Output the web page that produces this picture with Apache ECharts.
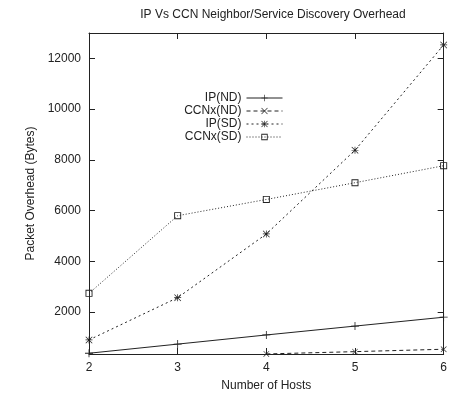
<!DOCTYPE html>
<html>
<head>
<meta charset="utf-8">
<script src="https://cdn.jsdelivr.net/npm/echarts@6/dist/echarts.min.js"></script>
<style>
  html, body { margin: 0; padding: 0; background: #fff; }
  #main { width: 450px; height: 401px; }
</style>
</head>
<body>
<div id="main"></div>
<script>
// values
var hosts = [2, 3, 4, 5, 6];
var ipND = [380, 740, 1100, 1450, 1800];
var ccnND = [null, null, 352, 443, 538];
var ipSD = [905, 2570, 5080, 8380, 12530];
var ccnSD = [2740, 5800, 6440, 7100, 7770];
var yTicks = [2000, 4000, 6000, 8000, 10000, 12000];

var PLUS = 'path://M0,4.5H10V5.5H0Z M4.5,0H5.5V10H4.5Z';
var CROSS = 'path://M0,0.7L0.7,0L10,9.3L9.3,10Z M9.3,0L10,0.7L0.7,10L0,9.3Z';
var STAR = 'path://M0,4.5H10V5.5H0Z M4.5,0H5.5V10H4.5Z M0,0.7L0.7,0L10,9.3L9.3,10Z M9.3,0L10,0.7L0.7,10L0,9.3Z';
var BOX = 'path://M0,0H10V10H0Z M1.3,1.3V8.7H8.7V1.3Z';

function pairs(vals) {
    return hosts.map(function (h, i) { return [h, vals[i]]; });
}

var ink = '#222';
var font = 'Liberation Sans, Arial, sans-serif';

var chart = echarts.init(document.getElementById('main'));

function xAx(pos, show) {
    return {
        type: 'value', position: pos, min: 2, max: 6, interval: 1,
        axisLine: { show: true, onZero: false, lineStyle: { color: ink, width: 1 } },
        axisTick: { show: true, inside: true, length: 6, lineStyle: { color: ink } },
        axisLabel: { show: show, color: ink, fontSize: 12, fontFamily: font, margin: 8 },
        splitLine: { show: false },
        name: show ? 'Number of Hosts' : '',
        nameLocation: 'middle', nameGap: 26,
        nameTextStyle: { color: ink, fontSize: 12, fontFamily: font }
    };
}
function yAx(pos, show) {
    return {
        type: 'value', position: pos, min: 350, max: 13000,
        axisLine: { show: true, onZero: false, lineStyle: { color: ink, width: 1 } },
        axisTick: { show: true, inside: true, length: 6, customValues: yTicks, lineStyle: { color: ink } },
        axisLabel: {
            show: show, customValues: yTicks, color: ink, fontSize: 12, fontFamily: font, margin: 8,
            formatter: function (v) { return String(v); }
        },
        splitLine: { show: false },
        name: show ? 'Packet Overhead (Bytes)' : '',
        nameLocation: 'middle', nameGap: 44,
        nameTextStyle: { color: ink, fontSize: 12, fontFamily: font }
    };
}

function line(name, vals, symbol, size, type) {
    return {
        name: name, type: 'line', data: pairs(vals),
        symbol: symbol, symbolSize: size, showAllSymbol: true,
        connectNulls: false, animation: false,
        lineStyle: { color: ink, width: 1, type: type },
        itemStyle: { color: ink, borderWidth: 0 }
    };
}

chart.setOption({
    animation: false,
    title: {
        text: 'IP Vs CCN Neighbor/Service Discovery Overhead',
        left: 268, top: 4, textAlign: 'center',
        textStyle: { color: ink, fontSize: 12, fontWeight: 'normal', fontFamily: font }
    },
    grid: { left: 89, right: 2, top: 33, bottom: 47 },
    legend: {
        orient: 'vertical', align: 'right', right: 162, top: 87,
        itemWidth: 36, itemHeight: 8, itemGap: 1,
        lineStyle: { width: 1 },
        textStyle: { color: ink, fontSize: 12, fontFamily: font, lineHeight: 12 },
        data: ['IP(ND)', 'CCNx(ND)', 'IP(SD)', 'CCNx(SD)']
    },
    xAxis: [xAx('bottom', true), xAx('top', false)],
    yAxis: [yAx('left', true), yAx('right', false)],
    series: [
        line('IP(ND)', ipND, PLUS, 8, 'solid'),
        line('CCNx(ND)', ccnND, CROSS, 6, [4, 3]),
        line('IP(SD)', ipSD, STAR, 7, [2, 3]),
        line('CCNx(SD)', ccnSD, BOX, 7, [1, 2])
    ]
});
</script>
</body>
</html>
